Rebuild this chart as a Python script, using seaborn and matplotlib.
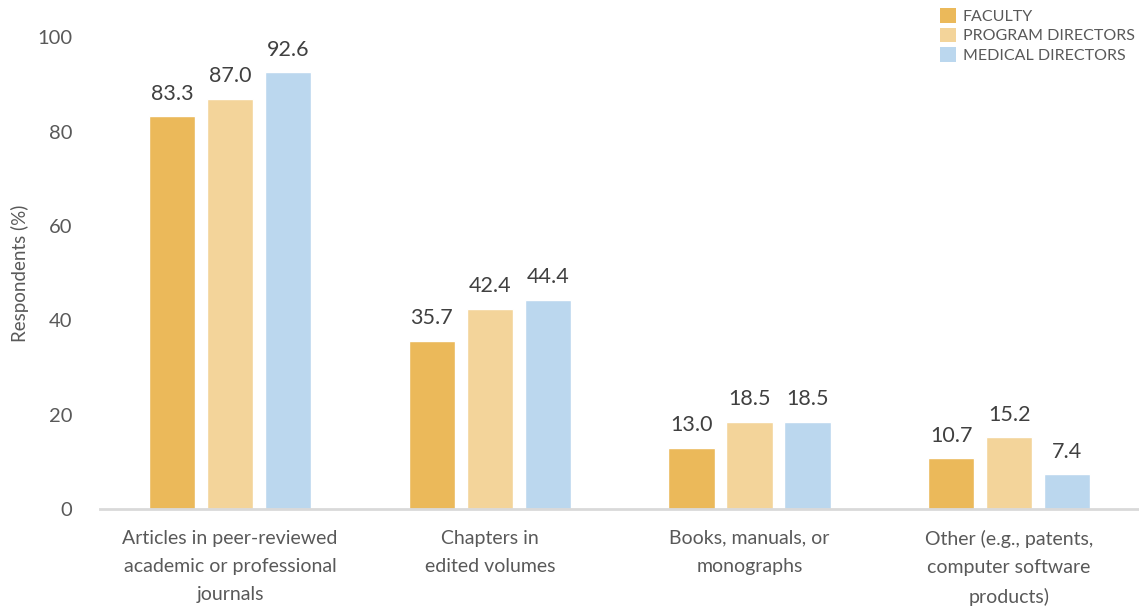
import pandas as pd
import seaborn as sns
import matplotlib
import matplotlib.pyplot as plt
from matplotlib.patches import Patch

matplotlib.use('Agg')

categories = [
    "Articles in peer-reviewed\nacademic or professional\njournals",
    "Chapters in\nedited volumes",
    "Books, manuals, or\nmonographs",
    "Other (e.g., patents,\ncomputer software\nproducts)",
]
groups = ["FACULTY", "PROGRAM DIRECTORS", "MEDICAL DIRECTORS"]
faculty = [83.3, 35.7, 13.0, 10.7]
program_directors = [87.0, 42.4, 18.5, 15.2]
medical_directors = [92.6, 44.4, 18.5, 7.4]
colors = ["#EBB95A", "#F3D49A", "#BBD7EE"]

rows = []
for grp, vals in zip(groups, [faculty, program_directors, medical_directors]):
    for cat, v in zip(categories, vals):
        rows.append({"category": cat, "group": grp, "value": v})
df = pd.DataFrame(rows)

sns.set_style("white")
plt.rcParams['font.family'] = ['Lato', 'DejaVu Sans']
text_col = "#595959"

fig = plt.figure(figsize=(11.39, 6.11), dpi=100)
ax = fig.add_axes([0.088, 0.167, 0.912, 0.772])

sns.barplot(
    data=df, x="category", y="value", hue="group",
    hue_order=groups, order=categories, palette=colors,
    width=0.67, gap=0.2, saturation=1, legend=False, ax=ax,
)

for container in ax.containers:
    ax.bar_label(container, fmt="%.1f", padding=9, fontsize=15.5, color="#404040")

ax.set_ylim(0, 100)
ax.set_xlim(-0.5, 3.5)
ax.set_yticks([0, 20, 40, 60, 80, 100])
ax.tick_params(axis='y', length=0, pad=20, labelsize=14.5, labelcolor=text_col)
ax.tick_params(axis='x', length=0, pad=15, labelsize=14, labelcolor=text_col)
for lbl in ax.get_xticklabels():
    lbl.set_linespacing(1.8)
ax.set_xlabel("")
ax.set_ylabel("Respondents (%)", fontsize=13.5, color=text_col, labelpad=6)

for s in ["top", "right", "left"]:
    ax.spines[s].set_visible(False)
ax.spines["bottom"].set_color("#D9D9D9")
ax.spines["bottom"].set_linewidth(2)

handles = [Patch(facecolor=c, edgecolor='none') for c in colors]
fig.legend(
    handles, groups, loc="upper left", bbox_to_anchor=(0.813, 1.01),
    frameon=False, fontsize=11.5, labelcolor=text_col,
    handlelength=1.0, handleheight=1.0, handletextpad=0.4, labelspacing=0.25,
)

fig.savefig("out.png", dpi=100)
